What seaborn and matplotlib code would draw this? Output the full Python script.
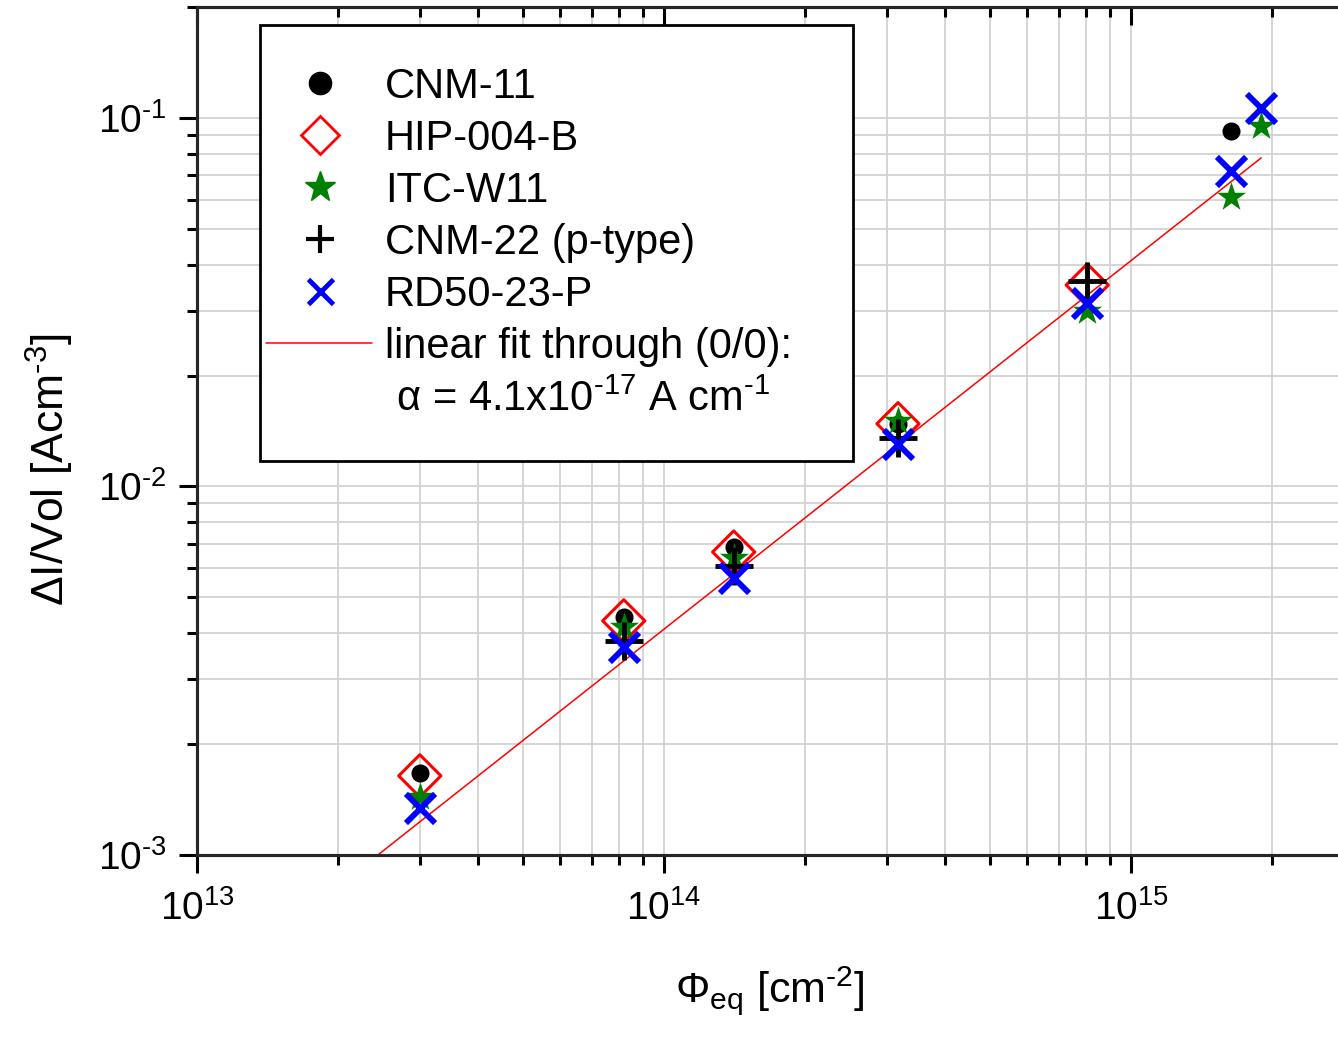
import matplotlib
matplotlib.use("Agg")
import matplotlib.pyplot as plt
from matplotlib.lines import Line2D
from matplotlib.legend_handler import HandlerBase
from matplotlib.ticker import FuncFormatter
import numpy as np
import pandas as pd
import seaborn as sns

# ---- data ----
cnm11_phi = [3.0e13, 8.2e13, 1.41e14, 3.17e14, 1.64e15]
cnm11_val = [1.67e-3, 4.43e-3, 6.86e-3, 1.48e-2, 9.23e-2]

hip_phi = [3.0e13, 8.2e13, 1.41e14, 3.17e14, 8.06e14]
hip_val = [1.64e-3, 4.32e-3, 6.64e-3, 1.48e-2, 3.52e-2]

itc_phi = [3.0e13, 8.2e13, 1.41e14, 3.17e14, 8.06e14, 1.64e15, 1.90e15]
itc_val = [1.44e-3, 4.16e-3, 6.40e-3, 1.51e-2, 2.99e-2, 6.11e-2, 9.51e-2]

cnm22_phi = [8.2e13, 1.41e14, 3.17e14, 8.06e14]
cnm22_val = [3.80e-3, 6.08e-3, 1.355e-2, 3.61e-2]

rd50_phi = [3.0e13, 8.2e13, 1.41e14, 3.17e14, 8.06e14, 1.64e15, 1.90e15]
rd50_val = [1.34e-3, 3.66e-3, 5.65e-3, 1.30e-2, 3.15e-2, 7.18e-2, 1.064e-1]

alpha = 4.1e-17
fit_phi = [1.0e13, 1.90e15]

labels = ["CNM-11", "HIP-004-B", "ITC-W11", "CNM-22 (p-type)", "RD50-23-P"]
fit_label = "linear fit through (0/0):"
alpha_label = " α = 4.1x10$^{\\text{-17}}$ A cm$^{\\text{-1}}$"

# ---- style ----
sns.set_theme(style="ticks")
plt.rcParams['font.family'] = ['Liberation Sans', 'DejaVu Sans']
plt.rcParams['mathtext.fontset'] = 'custom'
plt.rcParams['mathtext.rm'] = 'Liberation Sans'
plt.rcParams['mathtext.it'] = 'Liberation Sans:italic'
plt.rcParams['mathtext.bf'] = 'Liberation Sans:bold'
plt.rcParams['text.color'] = 'black'
plt.rcParams['axes.labelcolor'] = 'black'
plt.rcParams['xtick.color'] = 'black'
plt.rcParams['ytick.color'] = 'black'
plt.rcParams['axes.unicode_minus'] = False

W, H = 1338, 1038
fig = plt.figure(figsize=(W / 100, H / 100), dpi=100)
fig.patch.set_facecolor("white")
L, R, T, B = 197, 1343, 7, 855
ax = fig.add_axes([L / W, 1 - B / H, (R - L) / W, (B - T) / H])
ax.set_xscale("log")
ax.set_yscale("log")
ax.set_xlim(1e13, 10 ** (15 + (R - 1131) / 467))
ax.set_ylim(1e-3, 0.2)

# grid
ax.grid(True, which="both", color="#d2d2d2", linewidth=1.3, zorder=0)
ax.set_axisbelow(True)

# fit line
fit_df = pd.DataFrame({"phi": fit_phi, "val": [alpha * p for p in fit_phi]})
sns.lineplot(data=fit_df, x="phi", y="val", ax=ax, color="red", linewidth=1.1,
             legend=False, zorder=2)

def df(x, y):
    return pd.DataFrame({"phi": x, "val": y})

sns.scatterplot(data=df(hip_phi, hip_val), x="phi", y="val", ax=ax, marker="D",
                s=21.5 ** 2, facecolor="none", edgecolor="red", color="red",
                linewidth=2.2, legend=False, zorder=3)
sns.scatterplot(data=df(cnm11_phi, cnm11_val), x="phi", y="val", ax=ax, marker="o",
                s=13 ** 2, color="black", edgecolor="black", linewidth=0,
                legend=False, zorder=4)
sns.scatterplot(data=df(itc_phi, itc_val), x="phi", y="val", ax=ax, marker="*",
                s=22 ** 2, color="green", edgecolor="green", linewidth=0,
                legend=False, zorder=5)
sns.scatterplot(data=df(cnm22_phi, cnm22_val), x="phi", y="val", ax=ax, marker="+",
                s=27 ** 2, color="black", linewidth=3.5,
                legend=False, zorder=6)
sns.scatterplot(data=df(rd50_phi, rd50_val), x="phi", y="val", ax=ax, marker="x",
                s=21 ** 2, color="blue", linewidth=4.2,
                legend=False, zorder=7)

# spines and ticks
for side in ["left", "bottom", "top", "right"]:
    ax.spines[side].set_linewidth(2.2)
    ax.spines[side].set_color("black")
ax.tick_params(which="major", length=13, width=2.2, direction="out", color="black",
               labelsize=28, pad=9)
ax.tick_params(which="minor", length=7, width=2.2, direction="out", color="black")
ax.tick_params(axis="x", which="both", top=False)
ax.tick_params(axis="y", which="both", right=False)
ax.tick_params(axis="x", which="major", pad=12)
ax.yaxis.set_minor_formatter(plt.NullFormatter())
ax.xaxis.set_minor_formatter(plt.NullFormatter())

def pow_fmt(v, pos):
    e = int(round(np.log10(v)))
    return "10$^{\\text{%d}}$" % e

ax.xaxis.set_major_formatter(FuncFormatter(pow_fmt))
ax.yaxis.set_major_formatter(FuncFormatter(pow_fmt))

# top ticks pointing inward
ax2 = ax.twiny()
ax2.set_xscale("log")
ax2.set_xlim(ax.get_xlim())
ax2.tick_params(which="major", length=13, width=2.2, direction="in", labeltop=False)
ax2.tick_params(which="minor", length=7, width=2.2, direction="in", labeltop=False)
ax2.grid(False)
for side in ["left", "bottom", "top", "right"]:
    ax2.spines[side].set_linewidth(2.2)

# labels
ax.set_xlabel("Φ$_{\\mathrm{eq}}$ [cm$^{\\text{-2}}$]", fontsize=31)
ax.set_ylabel("ΔI/Vol [Acm$^{\\text{-3}}$]", fontsize=32)
ax.xaxis.set_label_coords(0.5, -0.128)
ax.xaxis.label.set_verticalalignment("top")
ax.yaxis.set_label_coords(-0.106, 0.454)


class LongLineHandler(HandlerBase):
    """Legend line handle that extends beyond the handle box."""
    def create_artists(self, legend, orig_handle, xdescent, ydescent,
                       width, height, fontsize, trans):
        y = height / 2 - ydescent
        line = Line2D([-xdescent - 26, width - xdescent + 24.5], [y, y],
                      color=orig_handle.get_color(),
                      linewidth=orig_handle.get_linewidth())
        line.set_transform(trans)
        return [line]


# legend
fit_handle = Line2D([], [], color="red", linewidth=1.1)
hs = [
    Line2D([], [], linestyle="none", marker="o", markersize=16, color="black"),
    Line2D([], [], linestyle="none", marker="D", markersize=19, markerfacecolor="none",
           markeredgecolor="red", markeredgewidth=2.0),
    Line2D([], [], linestyle="none", marker="*", markersize=23, color="green"),
    Line2D([], [], linestyle="none", marker="+", markersize=20, color="black",
           markeredgewidth=3.0),
    Line2D([], [], linestyle="none", marker="x", markersize=18, color="blue",
           markeredgewidth=3.5),
    fit_handle,
    Line2D([], [], linestyle="none"),
]
ls = labels + [fit_label, alpha_label]
leg = ax.legend(hs, ls, loc="upper left",
                bbox_to_anchor=((260 - L) / (R - L), 1 - (25 - T) / (B - T),
                                (853 - 260) / (R - L), 0.0),
                mode="expand", borderaxespad=0, fontsize=30, frameon=True,
                fancybox=False, edgecolor="black", framealpha=1,
                borderpad=1.0, handlelength=0.87, handletextpad=1.13,
                labelspacing=0.29,
                handler_map={fit_handle: LongLineHandler()})
leg.get_frame().set_linewidth(2.0)
leg.set_zorder(20)

fig.savefig("out.png", dpi=100, facecolor="white")
